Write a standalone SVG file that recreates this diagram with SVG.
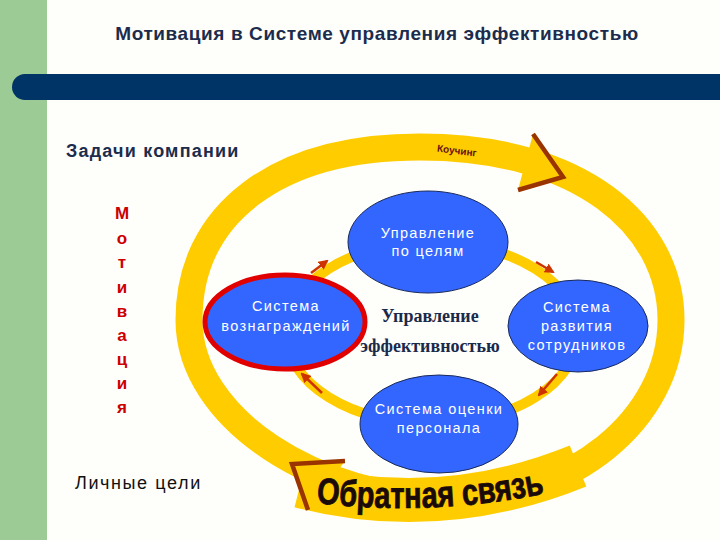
<svg xmlns="http://www.w3.org/2000/svg" width="720" height="540" viewBox="0 0 720 540">
<defs>
<style>
.ring{fill:none;stroke:#FFCC00;stroke-linejoin:round}
.chev{fill:none;stroke:#993300;stroke-width:4.5;stroke-linejoin:miter;stroke-linecap:butt}
.arr{fill:none;stroke:#CC3300;stroke-width:2.5}
.node{fill:#3366FF;stroke:#1a2a5a;stroke-width:1}
.ntxt{font-family:"Liberation Sans",Arial,sans-serif;font-size:14.5px;fill:#ffffff;text-anchor:middle;letter-spacing:1.4px}
.mot{font-family:"Liberation Sans",Arial,sans-serif;font-size:17px;font-weight:bold;fill:#CC0000;text-anchor:middle}
</style>
<marker id="ah" viewBox="0 0 10 10" refX="8" refY="5" markerWidth="4" markerHeight="4" orient="auto" markerUnits="strokeWidth">
<path d="M0,0 L10,5 L0,10 z" fill="#CC3300"/>
</marker>
<path id="fbpath" d="M 316,503 Q 435,517 552,492"/>
</defs>
<rect x="0" y="0" width="720" height="540" fill="#FEFEFA"/>
<rect x="0" y="0" width="47" height="540" fill="#9DCB96"/>
<path d="M 25,74 H 720 V 100 H 25 A 13 13 0 0 1 25,74 Z" fill="#003366"/>
<text x="377" y="40" font-family="Liberation Sans,Arial,sans-serif" font-size="19" font-weight="bold" fill="#1c2c4c" text-anchor="middle" letter-spacing="0.6">Мотивация в Системе управления эффективностью</text>
<text x="66" y="157" font-family="Liberation Sans,Arial,sans-serif" font-size="18" fill="#1c2c4c" font-weight="bold" letter-spacing="1.2">Задачи компании</text>
<text x="75" y="489" font-family="Liberation Sans,Arial,sans-serif" font-size="18" fill="#111111" letter-spacing="1.6">Личные цели</text>
<g id="motivation">
<text class="mot" x="122" y="219">М</text>
<text class="mot" x="122" y="244">о</text>
<text class="mot" x="122" y="268">т</text>
<text class="mot" x="122" y="293">и</text>
<text class="mot" x="122" y="317">в</text>
<text class="mot" x="122" y="341">а</text>
<text class="mot" x="122" y="365">ц</text>
<text class="mot" x="122" y="389">и</text>
<text class="mot" x="122" y="413">я</text>
</g>
<g id="connectors">
<path class="ring" stroke-width="27" d="M 189,320 C 189,215 275,147 420,147 C 580,147 671,225 671,320 C 671,420 570,500 450,500 C 320,500 189,420 189,320 Z"/>
<path class="ring" stroke-width="44" stroke-linecap="butt" d="M 300,486 Q 440,522 578,466"/>
<polygon points="533,134 563,177 518,190" fill="#FFCC00"/>
<polygon points="345,461 292,464 308,510" fill="#FFCC00"/>
<polyline class="chev" points="533,134 563,177 518,190"/>
<polyline class="chev" points="345,461 292,464 308,510"/>
<text font-family="Liberation Sans,Arial,sans-serif" font-size="37" font-weight="bold" fill="#1a0a0a" stroke="#1a0a0a" stroke-width="0.8"><textPath href="#fbpath" textLength="230" lengthAdjust="spacingAndGlyphs">Обратная связь</textPath></text>
<text x="457" y="154" transform="rotate(7 457 150)" font-family="Liberation Sans,Arial,sans-serif" font-size="10" font-weight="bold" fill="#661111" text-anchor="middle">Коучинг</text>
<ellipse class="ring" stroke-width="10" cx="432" cy="333" rx="146" ry="91"/>
<path class="arr" marker-end="url(#ah)" d="M 311,273 L 327,261"/>
<path class="arr" marker-end="url(#ah)" d="M 536,262 L 553,272"/>
<path class="arr" marker-end="url(#ah)" d="M 557,374 L 539,395"/>
<path class="arr" marker-end="url(#ah)" d="M 322,393 L 302,374"/>
</g>
<g id="node-goals">
<ellipse class="node" cx="428" cy="242" rx="80" ry="51"/>
<text class="ntxt" x="428" y="238">Управление</text>
<text class="ntxt" x="428" y="256">по целям</text>
</g>
<g id="node-rewards">
<ellipse class="node" cx="285" cy="322" rx="80" ry="47" style="stroke:#E00000;stroke-width:5"/>
<text class="ntxt" x="286" y="311">Система</text>
<text class="ntxt" x="286" y="331">вознаграждений</text>
</g>
<g id="node-development">
<ellipse class="node" cx="578" cy="326" rx="70" ry="46"/>
<text class="ntxt" x="577" y="312">Система</text>
<text class="ntxt" x="577" y="331">развития</text>
<text class="ntxt" x="577" y="350">сотрудников</text>
</g>
<g id="node-assessment">
<ellipse class="node" cx="439" cy="424" rx="79" ry="49"/>
<text class="ntxt" x="439" y="414">Система оценки</text>
<text class="ntxt" x="439" y="433">персонала</text>
</g>
<g id="node-center">
<text x="430" y="322" font-family="Liberation Serif,Times New Roman,serif" font-size="18" font-weight="bold" fill="#1a2a4a" text-anchor="middle">Управление</text>
<text x="430" y="352" font-family="Liberation Serif,Times New Roman,serif" font-size="18" font-weight="bold" fill="#1a2a4a" text-anchor="middle">эффективностью</text>
</g>
</svg>
